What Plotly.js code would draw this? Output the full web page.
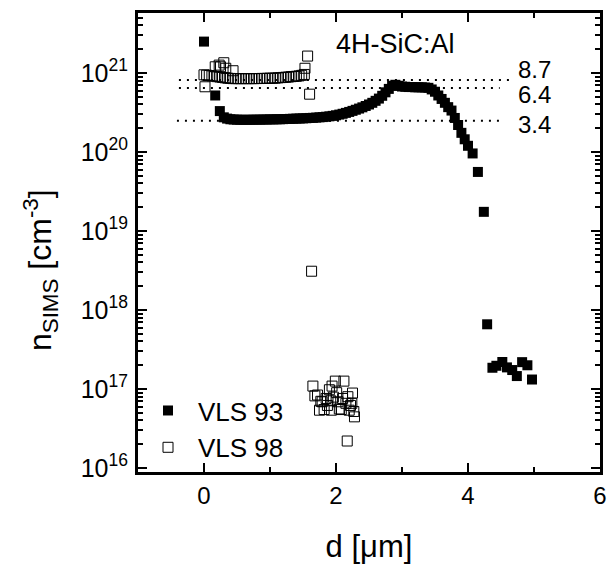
<!DOCTYPE html>
<html>
<head>
<meta charset="utf-8">
<script src="https://cdn.plot.ly/plotly-3.0.1.min.js"></script>
<style>html,body{margin:0;padding:0;background:#fff;}#chart{width:608px;height:568px;}</style>
</head>
<body>
<div id="chart"></div>
<script>
// VLS 93 (filled squares): depth d [µm], concentration [cm^-3]
var x93 = [0.00,0.17,0.24,0.30,0.35,0.40,0.45,0.50,0.55,0.60,0.65,0.70,0.75,0.80,0.85,0.90,0.95,1.00,1.05,1.10,1.15,1.20,1.25,1.30,1.35,1.40,1.45,1.50,1.55,1.60,1.65,1.70,1.75,1.80,1.85,1.90,1.95,2.00,2.05,2.10,2.15,2.20,2.25,2.30,2.35,2.40,2.45,2.50,2.55,2.60,2.65,2.70,2.75,2.80,2.85,2.90,2.95,3.00,3.05,3.10,3.15,3.20,3.25,3.30,3.35,3.40,3.45,3.50,3.55,3.60,3.65,3.70,3.75,3.80,3.85,3.90,3.95,4.00,4.07,4.15,4.24,4.29,4.37,4.43,4.52,4.59,4.67,4.74,4.82,4.90,4.97];
var n93 = [2.5e21,5.2e20,3.3e20,2.75e20,2.65e20,2.6e20,2.58e20,2.57e20,2.56e20,2.56e20,2.56e20,2.56e20,2.57e20,2.57e20,2.57e20,2.58e20,2.58e20,2.59e20,2.59e20,2.6e20,2.6e20,2.61e20,2.62e20,2.63e20,2.64e20,2.65e20,2.66e20,2.67e20,2.68e20,2.7e20,2.71e20,2.73e20,2.75e20,2.77e20,2.8e20,2.83e20,2.87e20,2.92e20,2.98e20,3.05e20,3.13e20,3.22e20,3.32e20,3.43e20,3.55e20,3.68e20,3.83e20,4.0e20,4.2e20,4.45e20,4.75e20,5.15e20,5.7e20,6.3e20,6.9e20,7.1e20,6.9e20,6.75e20,6.7e20,6.65e20,6.65e20,6.6e20,6.6e20,6.6e20,6.55e20,6.5e20,6.2e20,5.8e20,5.2e20,4.7e20,4.2e20,3.7e20,3.35e20,2.7e20,2.2e20,1.75e20,1.45e20,1.2e20,9.6e19,5.6e19,1.75e19,6.6e17,1.86e17,1.97e17,2.2e17,1.88e17,1.74e17,1.46e17,2.19e17,2.0e17,1.32e17];

// VLS 98 (open squares)
var x98 = [0.00,0.015,0.04,0.08,0.12,0.16,0.17,0.20,0.23,0.25,0.30,0.33,0.44,0.24,0.28,0.32,0.36,0.40,0.44,0.48,0.52,0.56,0.60,0.64,0.68,0.72,0.76,0.80,0.84,0.88,0.92,0.96,1.00,1.04,1.08,1.12,1.16,1.20,1.24,1.28,1.32,1.36,1.40,1.44,1.48,1.52,1.53,1.57,1.60,
           1.63,1.65,1.68,1.72,1.75,1.77,1.79,1.82,1.85,1.87,1.90,1.92,1.93,1.94,1.96,1.99,2.01,2.03,2.05,2.08,2.10,2.12,2.15,2.17,2.18,2.20,2.22,2.24,2.25,2.27,2.28];
var n98 = [9.5e20,6.7e20,9.4e20,9.3e20,9.2e20,9.1e20,1.2e21,9.0e20,1.26e21,1.2e21,1.35e21,1.15e21,1.07e21,8.9e20,8.8e20,8.7e20,8.6e20,8.55e20,8.5e20,8.5e20,8.5e20,8.5e20,8.5e20,8.5e20,8.5e20,8.5e20,8.5e20,8.52e20,8.52e20,8.55e20,8.55e20,8.58e20,8.6e20,8.6e20,8.62e20,8.7e20,8.75e20,8.8e20,8.85e20,8.9e20,9.0e20,9.05e20,9.1e20,9.2e20,9.35e20,9.6e20,1.15e21,1.64e21,5.4e20,
           3.1e18,1.09e17,8.2e16,8.4e16,5.4e16,7.0e16,6.9e16,5.5e16,7.6e16,6.2e16,9.8e16,7.1e16,5.4e16,1.09e17,7.9e16,1.26e17,9.0e16,6.9e16,5.6e16,5.5e16,7.6e16,1.26e17,6.6e16,2.2e16,8.0e16,5.4e16,6.2e16,6.6e16,8.9e16,5.2e16,4.45e16];

// reference levels (dotted lines) and their labels
var lvlLabels = ['8.7','6.4','3.4'];
var lvlY = [8.15e20, 6.46e20, 2.49e20];
var lvlX0 = [-0.38, -0.38, -0.41];
var lvlX1 = [4.64, 4.48, 4.48];
var lblY = [1.1e21, 5.4e20, 2.2e20];
var lblX = 4.73;

var yTickVals = [1e16,1e17,1e18,1e19,1e20,1e21];
var yTickText = ['10<sup>16</sup>','10<sup>17</sup>','10<sup>18</sup>','10<sup>19</sup>','10<sup>20</sup>','10<sup>21</sup>'];
var xTickVals = [0,2,4,6];

var FONT = 'Liberation Sans, Arial, Helvetica, sans-serif';
var traces = [];
for (var i = 0; i < lvlY.length; i++) {
  traces.push({x:[lvlX0[i], lvlX1[i]], y:[lvlY[i], lvlY[i]], mode:'lines', showlegend:false, hoverinfo:'skip',
    line:{color:'#000', width:2, dash:'2px,6px'}});
}
traces.push({x:x93, y:n93, mode:'markers', name:'VLS 93', marker:{symbol:'square', size:10, color:'#000', line:{width:0}}});
traces.push({x:x98, y:n98, mode:'markers', name:'VLS 98', marker:{symbol:'square-open', size:10, color:'#000', line:{width:1}}});

var ann = [];
for (var j = 0; j < lvlLabels.length; j++) {
  ann.push({x:lblX, y:Math.log10(lblY[j]), xref:'x', yref:'y', text:lvlLabels[j], showarrow:false, xanchor:'left', yanchor:'middle', font:{family:FONT, size:24, color:'#000'}});
}
ann.push({x:2.9, y:Math.log10(2.33e21), xref:'x', yref:'y', text:'4H-SiC:Al', showarrow:false, xanchor:'center', yanchor:'middle', font:{family:FONT, size:27, color:'#000'}});
ann.push({x:-0.212, y:0.44, xref:'paper', yref:'paper', text:'n<sub>SIMS</sub> [cm<sup>-3</sup>]', textangle:-90, showarrow:false, xanchor:'center', yanchor:'middle', font:{family:FONT, size:32, color:'#000'}});

var layout = {
  width:608, height:568,
  margin:{l:138, r:8, t:13, b:96},
  paper_bgcolor:'#fff', plot_bgcolor:'#fff',
  font:{family:FONT, color:'#000'},
  showlegend:true,
  legend:{x:0.0, y:0.185, xanchor:'left', yanchor:'top', bgcolor:'rgba(0,0,0,0)', itemwidth:50, font:{family:FONT, size:26, color:'#000'}, tracegroupgap:0},
  xaxis:{range:[-1,6], tickvals:xTickVals, ticks:'inside', ticklen:9, tickwidth:2.5, tickcolor:'#000',
    minor:{dtick:1, tick0:0, ticks:'inside', ticklen:5, tickwidth:2.5, tickcolor:'#000', showgrid:false},
    showline:true, linewidth:3, linecolor:'#000', mirror:'ticks', showgrid:false, zeroline:false,
    tickfont:{family:FONT, size:24, color:'#000'},
    title:{text:'d [μm]', font:{family:FONT, size:31, color:'#000'}, standoff:28}},
  yaxis:{type:'log', range:[15.95,21.76], tickvals:yTickVals, ticktext:yTickText, ticks:'inside', ticklen:9, tickwidth:2.5, tickcolor:'#000',
    minor:{dtick:'D1', ticks:'inside', ticklen:5, tickwidth:2, tickcolor:'#000', showgrid:false},
    showline:true, linewidth:3, linecolor:'#000', mirror:'ticks', showgrid:false, zeroline:false,
    tickfont:{family:FONT, size:25, color:'#000'}, ticklabelstandoff:2},
  annotations:ann
};
Plotly.newPlot('chart', traces, layout, {displayModeBar:false, staticPlot:true});
</script>
</body>
</html>
